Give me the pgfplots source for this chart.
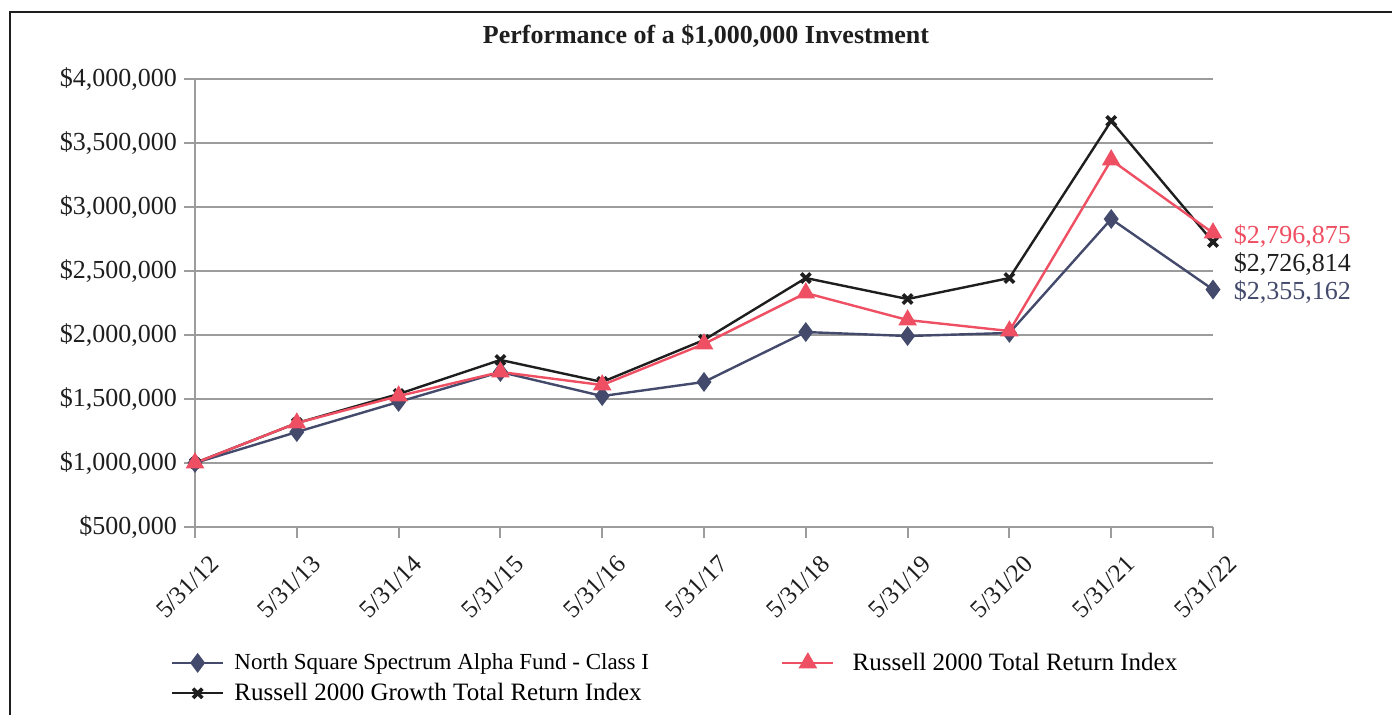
\documentclass[border=0pt]{standalone}
\usepackage{pgfplots}
\pgfplotsset{compat=1.18}
\usepackage{fontspec}
\setmainfont{Liberation Serif}
\definecolor{navy}{HTML}{434A6B}
\definecolor{pinkr}{HTML}{EE4F62}
\definecolor{blk}{HTML}{1E1E1E}
\definecolor{gridg}{HTML}{9C9C9C}
\begin{document}
\begin{tikzpicture}
\useasboundingbox (-97.5pt,-94pt) rectangle (598.5pt,263.5pt);
\clip (-97.5pt,-94pt) rectangle (598.5pt,263.5pt);
\draw[line width=1.1pt, blk] (-92.5pt,-120pt) -- (-92.5pt,257.5pt) -- (640pt,257.5pt);
\node[font=\fontsize{13}{15}\selectfont\bfseries, text=blk] at (255.5pt,245.5pt) {Performance of a \$1,000,000 Investment};
\begin{axis}[
  at={(0pt,0pt)}, anchor=south west,
  scale only axis, width=509pt, height=224pt,
  xmin=0, xmax=10, ymin=500000, ymax=4000000,
  axis lines*=left,
  axis line style={gridg, line width=1pt},
  clip=false,
  xtick={0,...,10},
  xticklabels={5/31/12,5/31/13,5/31/14,5/31/15,5/31/16,5/31/17,5/31/18,5/31/19,5/31/20,5/31/21,5/31/22},
  xticklabel style={anchor=east, font=\fontsize{12.5}{14}\selectfont, text=blk, inner sep=1pt, xshift=10.5pt, yshift=-10pt, rotate=45},
  ytick={500000,1000000,1500000,2000000,2500000,3000000,3500000,4000000},
  yticklabels={{\$500,000},{\$1,000,000},{\$1,500,000},{\$2,000,000},{\$2,500,000},{\$3,000,000},{\$3,500,000},{\$4,000,000}},
  yticklabel style={font=\fontsize{13}{15}\selectfont, text=blk},
  scaled y ticks=false,
  tick align=outside,
  major tick length=5.5pt,
  tick style={gridg, line width=1pt},
  ymajorgrids,
  grid style={gridg, line width=1.2pt},
  legend columns=2,
  legend style={draw=none, fill=none, at={(-0.03,-0.262)}, anchor=north west,
     font=\fontsize{12}{14}\selectfont, row sep=1pt,
     /tikz/every odd column/.append style={column sep=3pt},
     /tikz/every even column/.append style={column sep=64pt}},
  legend cell align=left,
  legend image code/.code={\draw[mark repeat=2,mark phase=2] plot coordinates {(0cm,0cm) (0.45cm,0cm) (0.9cm,0cm)};},
]
% Growth (drawn first, behind)
\addplot[blk, line width=1.2pt, mark=x, mark size=3.3pt, mark options={line width=1.8pt}, forget plot] coordinates {
(0,1000000) (1,1312000) (2,1539000) (3,1805000) (4,1633000) (5,1961000) (6,2445000) (7,2281000) (8,2445000) (9,3672000) (10,2726814)};
% Fund
\addplot[navy, line width=1.2pt, mark=diamond*, mark size=4pt, forget plot] coordinates {
(0,1000000) (1,1242000) (2,1477000) (3,1711000) (4,1523000) (5,1633000) (6,2023000) (7,1992000) (8,2016000) (9,2906000) (10,2355162)};
% Russell 2000
\addplot[pinkr, line width=1.2pt, mark=triangle*, mark size=4.2pt, forget plot] coordinates {
(0,1000000) (1,1312000) (2,1523000) (3,1711000) (4,1609000) (5,1930000) (6,2328000) (7,2117000) (8,2031000) (9,3367000) (10,2796875)};
\addlegendimage{navy, line width=1.2pt, mark=diamond*, mark size=4pt}
\addlegendentry{\fontsize{11.5}{14}\selectfont North Square Spectrum Alpha Fund - Class I}
\addlegendimage{pinkr, line width=1.2pt, mark=triangle*, mark size=4.2pt}
\addlegendentry{\hspace{4pt}\fontsize{12.5}{14}\selectfont Russell 2000 Total Return Index}
\addlegendimage{blk, line width=1.2pt, mark=x, mark size=3.3pt, mark options={line width=1.8pt}}
\addlegendentry{\fontsize{12.5}{14}\selectfont Russell 2000 Growth Total Return Index}
\node[anchor=west, text=pinkr, font=\fontsize{13}{15}\selectfont, inner sep=0pt] at (axis cs:10.2,2773000) {\$2,796,875};
\node[anchor=west, text=blk, font=\fontsize{13}{15}\selectfont, inner sep=0pt] at (axis cs:10.2,2555000) {\$2,726,814};
\node[anchor=west, text=navy, font=\fontsize{13}{15}\selectfont, inner sep=0pt] at (axis cs:10.2,2336000) {\$2,355,162};
\end{axis}
\end{tikzpicture}
\end{document}
